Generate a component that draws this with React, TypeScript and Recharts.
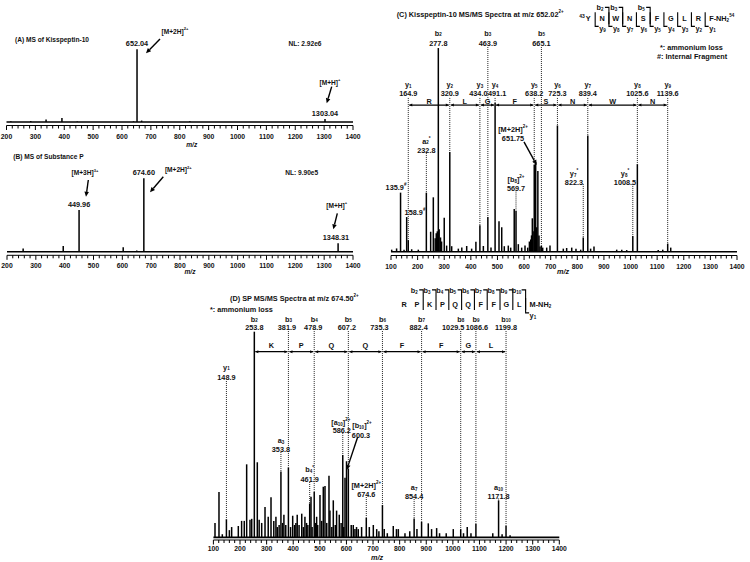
import React from 'react'
import { ComposedChart, XAxis, YAxis, Scatter, ErrorBar, ReferenceLine, ReferenceDot } from 'recharts'

const FONT = "'Liberation Sans', Arial, sans-serif"
const FS = 7.3

// [m/z, relative intensity %]
const kpMsPeaks: [number, number][] = [
  [215, 1], [284, 1.5], [337, 3.3], [392, 5.5], [445, 0.8], [640, 1], [652.04, 100], [668, 2], [835, 1.2], [1303.04, 4],
]
const spMsPeaks: [number, number][] = [
  [256, 4.5], [395, 7.8], [449.96, 56.8], [603, 6], [650, 1.5], [674.6, 100], [880, 1], [1088, 1], [1348.31, 11.4],
]
const kpMsmsPeaks: [number, number][] = [
  [102.6, 1], [121, 1.6], [135.9, 29], [149, 1], [158.9, 17], [164.9, 5.7], [177.7, 1.2], [202.6, 1], [232.8, 29],
  [249, 9.8], [259, 26.7], [266, 6.6], [270, 9], [274, 10], [277.8, 100], [281, 11], [286, 7], [290, 5], [300, 16.7],
  [309, 3], [320.9, 49], [328, 2.7], [353, 1.5], [366, 2], [384.4, 2.8], [403, 1.5], [419, 4.9], [434.0, 13], [447, 2.8],
  [463.9, 17], [475.7, 2], [491.1, 73], [505.8, 15], [516, 12], [525.7, 2.7], [540.7, 3], [549.7, 2], [563, 21],
  [569.7, 20], [578.4, 3.7], [591, 2], [603.5, 3], [613.6, 2], [620, 5], [625, 6], [628, 8], [631, 16.4], [634, 10],
  [638.2, 42.6], [643.6, 44], [647, 12], [651.75, 39.6], [656, 8], [660, 2.5], [665.1, 3], [670, 2], [685, 2],
  [697.4, 3], [725.3, 62], [747.4, 1.5], [760, 1.8], [779, 2], [795, 1.5], [812.7, 1], [822.3, 7], [839.4, 57],
  [850, 1.5], [862.7, 2.5], [948, 1], [967, 1], [985.6, 0.8], [1008.5, 7.7], [1025.6, 43], [1104, 0.8], [1121, 1],
  [1139.6, 4], [1151, 2],
]
const spMsmsPeaks: [number, number][] = [
  [106, 7], [121, 22], [133.5, 1.5], [148.9, 8.8], [160, 3.5], [168.6, 5], [193.6, 5.5], [206, 8], [216, 8], [225, 35.5],
  [237.5, 8.5], [244, 9], [253.8, 100], [265, 36.5], [272, 8.5], [281.5, 7], [294, 14.8], [306, 10], [316.5, 19.5],
  [327, 8], [335, 10], [340, 5], [347, 6], [353.8, 32], [360, 7], [365, 11], [372, 6], [381.9, 34], [390, 5], [398, 10.5],
  [405, 6], [410, 7], [415, 11], [422, 6], [432, 11.5], [438, 5], [444, 10], [450, 7], [455, 6], [461.9, 16.5],
  [466.8, 19.7], [471, 5], [478.9, 22], [483, 7], [488, 10], [492, 6], [500.6, 20.6], [507, 8], [513, 24.6],
  [519.4, 25], [526, 7], [534.4, 30], [538, 13], [545, 5], [550.6, 18], [558, 6], [563, 13], [573, 11], [580, 7],
  [586.2, 40], [590, 5], [594.6, 29], [600.3, 37], [607.2, 33.5], [618, 6], [625.7, 6], [632, 4], [638, 5],
  [644.5, 4], [657, 5], [674.6, 9.5], [686, 5], [701, 6], [713.7, 4], [722, 3], [735.3, 15.7], [742, 4], [753.6, 2],
  [776, 5.5], [788, 4], [795, 4], [820, 2], [838, 3], [854.4, 9.2], [865, 4], [882.4, 7.6], [907.6, 6.8], [920, 4],
  [939, 4.5], [950, 2], [975, 2], [1001.5, 4], [1029.5, 4], [1040, 2], [1054, 5], [1068, 2], [1086.6, 6.5], [1150, 2],
  [1171.8, 18], [1185, 1.5], [1199.8, 5.6], [1215, 1],
]

// annotated fragment ions
const kpBIons: [number, string][] = [[277.8, 'b_{2}'], [463.9, 'b_{3}'], [665.1, 'b_{5}']]
const kpYIons = [164.9, 320.9, 434.0, 491.1, 638.2, 725.3, 839.4, 1025.6, 1139.6]
const kpYResidues = ['R', 'L', 'G', 'F', 'S', 'N', 'W', 'N']
const kpSequence = ['Y', 'N', 'W', 'N', 'S', 'F', 'G', 'L', 'R', 'F-NH_{2}^{54}']

const spBIons = [253.8, 381.9, 478.9, 607.2, 735.3, 882.4, 1029.5, 1086.6, 1199.8]
const spBResidues = ['K', 'P', 'Q', 'Q', 'F', 'F', 'G', 'L']
const spSequence = ['R', 'P', 'K', 'P', 'Q', 'Q', 'F', 'F', 'G', 'L', 'M-NH_{2}']

// small horizontal nudges of the value labels, as laid out in the figure
const kpYValueShift = [0, 0, -1.5, 2, 0, 0, 0, 0, 0]
const spBValueShift = [0, -1.5, -1, -1.5, -3, -3, -7.5, 1, 0]

const range = (a: number, b: number, s: number) => {
  const r: number[] = []
  for (let v = a; v <= b + 1e-6; v += s) r.push(v)
  return r
}
const peakTop = (peaks: [number, number][], mz: number) =>
  peaks.reduce((best, p) => (Math.abs(p[0] - mz) < Math.abs(best[0] - mz) ? p : best))[1]

function Rich({ x, y, text, size = FS, anchor = 'middle', italic = false }: any) {
  const parts: { t: string; k: string }[] = []
  const re = /([_^])\{([^}]*)\}/g
  let last = 0
  let m: RegExpExecArray | null
  while ((m = re.exec(text))) {
    if (m.index > last) parts.push({ t: text.slice(last, m.index), k: 'n' })
    parts.push({ t: m[2], k: m[1] })
    last = re.lastIndex
  }
  if (last < text.length) parts.push({ t: text.slice(last), k: 'n' })
  let cur = 0
  return (
    <text x={x} y={y} textAnchor={anchor} dominantBaseline="central" fontFamily={FONT} fontWeight="bold"
      fontStyle={italic ? 'italic' : 'normal'} fontSize={size} fill="#111">
      {parts.map((p, i) => {
        const off = p.k === '_' ? size * 0.25 : p.k === '^' ? -size * 0.4 : 0
        const dy = off - cur
        cur = off
        return <tspan key={i} dy={dy} fontSize={p.k === 'n' ? size : size * 0.62}>{p.t}</tspan>
      })}
    </text>
  )
}

const NoDot = () => <g />

function ArrowShape(p: any) {
  const { x1, y1, x2, y2 } = p
  const a = Math.atan2(y2 - y1, x2 - x1)
  const L = 5, W = 2.3
  const bx = x2 - L * Math.cos(a), by = y2 - L * Math.sin(a)
  const pts = `${x2},${y2} ${bx + W * Math.sin(a)},${by - W * Math.cos(a)} ${bx - W * Math.sin(a)},${by + W * Math.cos(a)}`
  return (
    <g>
      <line x1={x1} y1={y1} x2={bx} y2={by} stroke="#000" strokeWidth={1.4} />
      <polygon points={pts} fill="#000" />
    </g>
  )
}

function SpanShape(p: any) {
  const { x1, y1, x2, y2 } = p
  const L = 3, W = 1.5
  return (
    <g>
      <line x1={x1 + 1} y1={y1} x2={x2 - 1} y2={y2} stroke="#000" strokeWidth={1.2} />
      <polygon points={`${x1 + 1},${y1} ${x1 + 1 + L},${y1 - W} ${x1 + 1 + L},${y1 + W}`} fill="#000" />
      <polygon points={`${x2 - 1},${y2} ${x2 - 1 - L},${y2 - W} ${x2 - 1 - L},${y2 + W}`} fill="#000" />
    </g>
  )
}

const label = (key: string, x: number, y: number, text: string, o: any = {}) => (
  <ReferenceDot key={key} x={x} y={y} r={0} ifOverflow="visible"
    shape={(p: any) => <Rich x={p.cx + (o.dx || 0)} y={p.cy} text={text} size={o.size} anchor={o.anchor} italic={o.italic} />} />
)
const dash = (key: string, x: number, y1: number, y2: number) => (
  <ReferenceLine key={key} segment={[{ x, y: y1 }, { x, y: y2 }]} stroke="#222" strokeWidth={1}
    strokeDasharray="1 1" ifOverflow="visible" />
)
const arrow = (key: string, x1: number, y1: number, x2: number, y2: number) => (
  <ReferenceLine key={key} segment={[{ x: x1, y: y1 }, { x: x2, y: y2 }]} shape={ArrowShape} ifOverflow="visible" />
)
const span = (key: string, x1: number, x2: number, y: number) => (
  <ReferenceLine key={key} segment={[{ x: x1, y }, { x: x2, y }]} shape={SpanShape} ifOverflow="visible" />
)

function Seq({ cx, cy, residues, step, lead, bFrags, yFrags, bRise, yDrop }: any) {
  const n = residues.length
  const gx = (g: number) => cx + (g + 0.5) * step
  const els: any[] = []
  residues.forEach((r: string, i: number) => {
    if (i < n - 1) els.push(<Rich key={'r' + i} x={cx + i * step} y={cy} text={r} />)
    else els.push(<Rich key={'r' + i} x={gx(n - 2) + 4} y={cy} text={r} anchor="start" />)
  })
  if (lead) els.push(<Rich key="lead" x={cx - 3.5} y={cy - 2.5} text={lead} anchor="end" size={5} />)
  bFrags.forEach(([g, lab]: [number, string]) => {
    const x = gx(g)
    els.push(<path key={'b' + g} d={`M${x - 4},${cy - bRise} H${x} V${cy + 6}`} fill="none" stroke="#000" strokeWidth={1.1} />)
    els.push(<Rich key={'bl' + g} x={x - 9} y={cy - bRise} text={lab} />)
  })
  yFrags.forEach(([g, lab]: [number, string]) => {
    const x = gx(g)
    els.push(<path key={'y' + g} d={`M${x},${cy - 6} V${cy + yDrop} H${x + 3.5}`} fill="none" stroke="#000" strokeWidth={1.1} />)
    els.push(<Rich key={'yl' + g} x={x + 4} y={cy + yDrop + 2} text={lab} anchor="start" />)
  })
  return <g>{els}</g>
}

function MzTick(props: any) {
  const { x, y, payload, labelDy } = props
  const major = Math.round(payload.value) % 100 === 0
  return (
    <g>
      <line x1={x} x2={x} y1={y} y2={y + (major ? 4.5 : 3)} stroke="#000" strokeWidth={1} />
      {major && (
        <text x={x} y={y + labelDy} textAnchor="middle" dominantBaseline="central" fontFamily={FONT}
          fontWeight="bold" fontSize={6.8} fill="#111">{payload.value}</text>
      )}
    </g>
  )
}

function Spectrum({ peaks, xDomain, yDomain, margin, axisH, labelDy, children }: any) {
  const data = peaks.map(([mz, h]: [number, number]) => ({ mz, y: 0, err: [0, h] }))
  return (
    <div style={{ position: 'absolute', left: 0, top: 0 }}>
      <ComposedChart width={750} height={562} margin={margin}>
        <XAxis type="number" dataKey="mz" domain={xDomain} ticks={range(xDomain[0], xDomain[1], 20)} interval={0}
          tickLine={false} tickSize={0} tickMargin={0} tick={<MzTick labelDy={labelDy} />}
          axisLine={{ stroke: '#000', strokeWidth: 1 }} height={axisH} allowDataOverflow />
        <YAxis type="number" dataKey="y" domain={yDomain} hide allowDataOverflow />
        <Scatter data={data} dataKey="y" shape={NoDot} isAnimationActive={false} legendType="none">
          <ErrorBar dataKey="err" direction="y" width={0} stroke="#000" strokeWidth={1.5} />
        </Scatter>
        <ReferenceLine y={0} stroke="#000" strokeWidth={1.6} />
        {children}
      </ComposedChart>
    </div>
  )
}

export default function App() {
  const cOther: any[] = []
  kpBIons.forEach(([mz, name], i) => {
    cOther.push(label('cbn' + i, mz, 107.6, name), label('cbv' + i, mz, 102.6, mz.toFixed(1)))
    if (peakTop(kpMsmsPeaks, mz) < 100) cOther.push(dash('cbd' + i, mz, 100.5, peakTop(kpMsmsPeaks, mz)))
  })
  kpYIons.forEach((mz, i) => {
    cOther.push(label('cyn' + i, mz, 82.2, `y_{${i + 1}}`),
      label('cyv' + i, mz, 77.7, mz.toFixed(1), { dx: kpYValueShift[i] }))
    cOther.push(dash('cyd' + i, mz, 75.5, peakTop(kpMsmsPeaks, mz)))
  })
  kpYResidues.forEach((r, i) => {
    const a = kpYIons[i], b = kpYIons[i + 1]
    cOther.push(span('csp' + i, a, b, 72), label('cres' + i, (a + b) / 2, 73.9, r))
  })

  const dOther: any[] = []
  spBIons.forEach((mz, i) => {
    dOther.push(label('dbn' + i, mz, 106.4, `b_{${i + 2}}`),
      label('dbv' + i, mz, 102.2, mz.toFixed(1), { dx: spBValueShift[i] }))
    if (peakTop(spMsmsPeaks, mz) < 100) dOther.push(dash('dbd' + i, mz, 100.3, peakTop(spMsmsPeaks, mz)))
  })
  spBResidues.forEach((r, i) => {
    const a = spBIons[i], b = spBIons[i + 1]
    dOther.push(span('dsp' + i, a, b, 90.3), label('dres' + i, (a + b) / 2, 93.6, r))
  })

  const small = { size: 6.6 }

  return (
    <div style={{ position: 'absolute', left: 0, top: 0, width: 750, height: 562, background: '#fff', overflow: 'hidden' }}>
      {/* (A) full MS of kisspeptin-10 */}
      <Spectrum peaks={kpMsPeaks} xDomain={[200, 1400]} yDomain={[-4.8, 140.3]} axisH={24} labelDy={10.5}
        margin={{ top: 20, right: 397, bottom: 412.5, left: 6.5 }}>
        {[
          label('at', 229.4, 113.8, '(A) MS of Kisspeptin-10', { anchor: 'start', ...small }),
          label('a1', 652.04, 108.3, '652.04'),
          label('a2', 783.5, 125.6, '[M+2H]^{2+}', small),
          arrow('a3', 731.6, 114.2, 683.1, 94.5),
          label('a4', 1233.8, 108.3, 'NL: 2.92e6', small),
          label('a5', 1320.4, 55.4, '[M+H]^{+}', small),
          arrow('a6', 1326.2, 48.6, 1308.9, 25.7),
          label('a7', 1303.04, 12.8, '1303.04'),
          label('a8', 841.4, -29.8, 'm/z', { italic: true, ...small }),
        ]}
      </Spectrum>

      {/* (B) full MS of substance P */}
      <Spectrum peaks={spMsPeaks} xDomain={[200, 1400]} yDomain={[-4.9, 138.6]} axisH={24} labelDy={10.5}
        margin={{ top: 150, right: 397, bottom: 282.7, left: 7 }}>
        {[
          label('bt', 221.8, 130.4, '(B) MS of Substance P', { anchor: 'start', ...small }),
          label('b1', 470.5, 108.2, '[M+3H]^{3+}', small),
          arrow('b2', 482, 97.7, 474, 74.9),
          label('b3', 449.96, 65, '449.96'),
          label('b4', 674.6, 108.2, '674.60'),
          label('b5', 794.1, 112.3, '[M+2H]^{2+}', small),
          arrow('b6', 742.1, 102.2, 696, 80.9),
          label('b7', 1222.1, 108.2, 'NL: 9.90e5', small),
          label('b8', 1343.5, 63.6, '[M+H]^{+}', small),
          arrow('b9', 1345.6, 52.3, 1331.7, 30.5),
          label('b10', 1341, 19.6, '1348.31'),
          label('b11', 834.7, -26.3, 'm/z', { italic: true, ...small }),
        ]}
      </Spectrum>

      {/* (C) kisspeptin-10 MS/MS */}
      <Spectrum peaks={kpMsmsPeaks} xDomain={[100, 1400]} yDomain={[-1.87, 123.6]} axisH={24} labelDy={10.5}
        margin={{ top: 0, right: 13, bottom: 282.5, left: 391 }}>
        {[
          label('ct', 121.4, 116.7, '(C)  Kisspeptin-10 MS/MS Spectra at m/z 652.02^{2+}', { anchor: 'start' }),
          <ReferenceDot key="cseq" x={841.3} y={114.6} r={0} ifOverflow="visible"
            shape={(p: any) => (
              <Seq cx={p.cx} cy={p.cy} residues={kpSequence} step={13.75} lead="43" bRise={11} yDrop={8}
                bFrags={[[1, 'b_{2}'], [2, 'b_{3}'], [4, 'b_{5}']]}
                yFrags={range(0, 8, 1).map((g) => [g, `y_{${9 - g}}`])} />
            )} />,
          label('cn1', 1110.7, 100.6, '*: ammonium loss', { anchor: 'start' }),
          label('cn2', 1099.4, 96.1, '#: Internal Fragment', { anchor: 'start' }),
          label('cm1', 558.4, 60.2, '[M+2H]^{2+}'),
          label('cm2', 558.4, 56.0, '651.75'),
          arrow('cm3', 599.7, 53.9, 647.4, 42.6),
          label('ca1', 232.8, 54.6, 'a_{2}^{*}'),
          label('ca2', 232.8, 49.9, '232.8'),
          dash('ca3', 232.8, 48.5, peakTop(kpMsmsPeaks, 232.8)),
          label('ci1', 118.8, 31.8, '135.9^{#}'),
          label('ci2', 190.2, 19.6, '158.9^{#}'),
          label('c81', 569.7, 35.5, '[b_{8}]^{2+}'),
          label('c82', 569.7, 31.4, '569.7'),
          dash('c83', 569.7, 30.1, peakTop(kpMsmsPeaks, 569.7)),
          label('c71', 787.6, 38.8, 'y_{7}^{*}'),
          label('c72', 787.6, 34.3, '822.3'),
          dash('c73', 822.3, 33.2, peakTop(kpMsmsPeaks, 822.3)),
          label('c91', 979.2, 38.8, 'y_{8}^{*}'),
          label('c92', 979.2, 34.3, '1008.5'),
          dash('c93', 1008.5, 33.2, peakTop(kpMsmsPeaks, 1008.5)),
          label('cmz', 746.2, -9.5, 'm/z', { italic: true }),
          ...cOther,
        ]}
      </Spectrum>

      {/* (D) substance P MS/MS */}
      <Spectrum peaks={spMsmsPeaks} xDomain={[100, 1400]} yDomain={[-1.3, 122.7]} axisH={22} labelDy={8.3}
        margin={{ top: 285, right: 190.7, bottom: 0, left: 213.4 }}>
        {[
          label('dt', 162.4, 116.2, '(D)  SP MS/MS Spectra at m/z 674.50^{2+}', { anchor: 'start' }),
          label('dn', 87.2, 110.9, '*: ammonium loss', { anchor: 'start' }),
          <ReferenceDot key="dseq" x={816.4} y={113.5} r={0} ifOverflow="visible"
            shape={(p: any) => (
              <Seq cx={p.cx} cy={p.cy} residues={spSequence} step={12.8} bRise={14} yDrop={9}
                bFrags={range(1, 9, 1).map((g) => [g, `b_{${g + 1}}`])} yFrags={[[9, 'y_{1}']]} />
            )} />,
          label('dy1', 148.9, 83.0, 'y_{1}'),
          label('dy2', 148.9, 78.0, '148.9'),
          dash('dy3', 148.9, 76, peakTop(spMsmsPeaks, 148.9)),
          label('da1', 353.8, 47.1, 'a_{3}'),
          label('da2', 353.8, 42.8, '353.8'),
          dash('da3', 353.8, 41.5, peakTop(spMsmsPeaks, 353.8)),
          label('db1', 461.9, 33.0, 'b_{4}^{*}'),
          label('db2', 461.9, 28.3, '461.9'),
          dash('db3', 461.9, 26.9, peakTop(spMsmsPeaks, 461.9)),
          label('dc1', 586.2, 56.0, '[a_{10}]^{2+}', { dx: -2 }),
          label('dc2', 586.2, 52.0, '586.2', { dx: -1 }),
          dash('dc3', 586.2, 50.7, peakTop(spMsmsPeaks, 586.2)),
          label('dd1', 650.9, 54.6, '[b_{10}]^{2+}', { dx: 2 }),
          label('dd2', 650.9, 50.0, '600.3', { dx: 1 }),
          arrow('dd3', 642.3, 48.8, 601, 32.8),
          label('de1', 674.6, 25.6, '[M+2H]^{2+}'),
          label('de2', 674.6, 21.3, '674.6'),
          dash('de3', 674.6, 19.6, peakTop(spMsmsPeaks, 674.6)),
          label('df1', 854.4, 24.5, 'a_{7}'),
          label('df2', 854.4, 20.1, '854.4'),
          dash('df3', 854.4, 18.6, peakTop(spMsmsPeaks, 854.4)),
          label('dg1', 1171.8, 24.5, 'a_{10}'),
          label('dg2', 1171.8, 20.1, '1171.8'),
          dash('dg3', 1171.8, 18.9, peakTop(spMsmsPeaks, 1171.8)),
          label('dmz', 714.9, -9.6, 'm/z', { italic: true }),
          ...dOther,
        ]}
      </Spectrum>
    </div>
  )
}
